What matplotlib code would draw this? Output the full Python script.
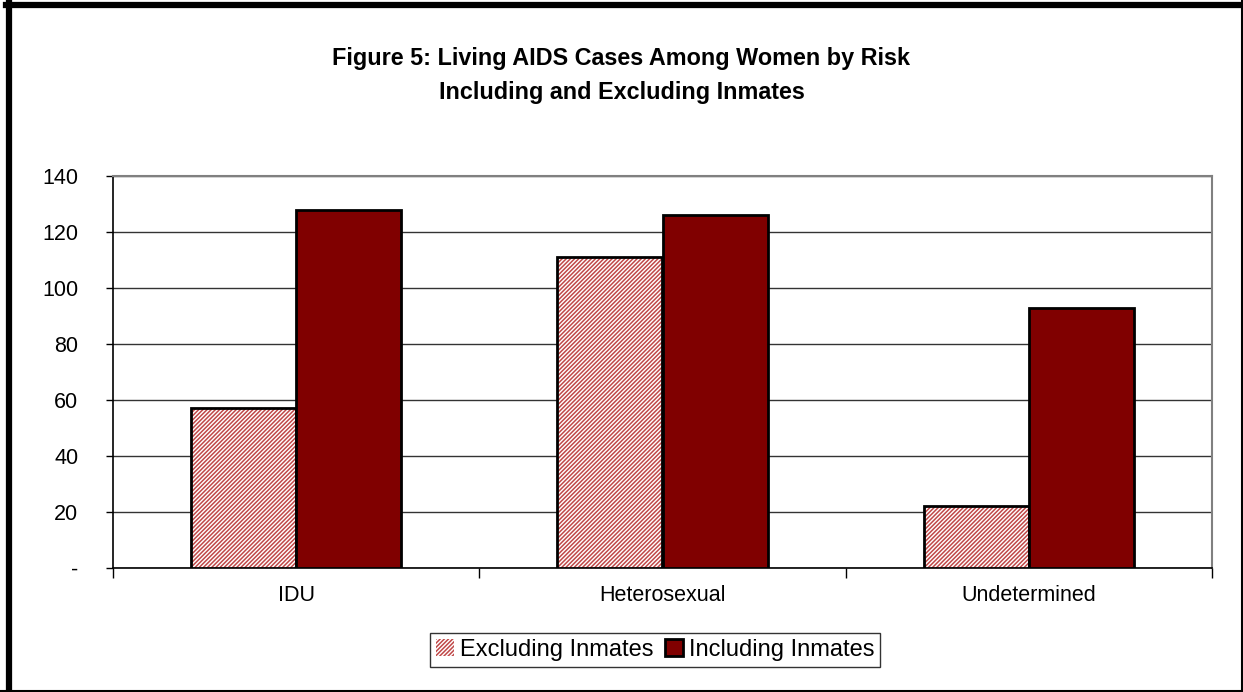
import numpy as np
import matplotlib
matplotlib.use("Agg")
import matplotlib.pyplot as plt
from matplotlib.lines import Line2D
from matplotlib.patches import Patch

plt.rcParams['font.family'] = ['Liberation Sans', 'DejaVu Sans']

# data
categories = ["IDU", "Heterosexual", "Undetermined"]
excluding = [57, 111, 22]
including = [128, 126, 93]
yticks = [0, 20, 40, 60, 80, 100, 120, 140]
ytick_labels = ["-", "20", "40", "60", "80", "100", "120", "140"]

W, H = 1243, 692
fig = plt.figure(figsize=(W / 100, H / 100), dpi=100)
ax = fig.add_axes([113 / W, 1 - 568 / H, (1212 - 113) / W, (568 - 176) / H])

x = np.arange(len(categories))
bw = 0.287
hatch_red = "#c04848"
dark_red = "#800000"

# hatched bars: draw hatch first, then black outline on top
plt.rcParams['hatch.linewidth'] = 1.1
ax.bar(x - bw / 2, excluding, bw, color="white", edgecolor=hatch_red,
       hatch="////////", linewidth=0, zorder=3)
ax.bar(x - bw / 2, excluding, bw, fill=False, edgecolor="black",
       linewidth=2, zorder=4)
ax.bar(x + bw / 2, including, bw, color=dark_red, edgecolor="black",
       linewidth=2, zorder=4)

ax.set_xlim(-0.5, 2.5)
ax.set_ylim(0, 140)
ax.set_yticks(yticks)
ax.set_yticklabels(ytick_labels, fontsize=15.5)
ax.set_xticks(x)
ax.set_xticklabels(categories, fontsize=15.5)
ax.tick_params(axis='x', length=0, pad=12)
ax.tick_params(axis='y', length=5, width=1, pad=20)
# category boundary ticks on the x axis
ax.set_xticks([-0.5, 0.5, 1.5, 2.5], minor=True)
ax.tick_params(axis='x', which='minor', length=7, width=1)

ax.yaxis.grid(True, color="#333333", linewidth=1, zorder=0)
ax.set_axisbelow(True)
for s in ["top", "right"]:
    ax.spines[s].set_color("#808080")
    ax.spines[s].set_linewidth(1.5)
for s in ["left", "bottom"]:
    ax.spines[s].set_color("black")
    ax.spines[s].set_linewidth(1.2)

fig.text(0.5, 1 - 59 / H, "Figure 5: Living AIDS Cases Among Women by Risk",
         ha="center", va="center", fontsize=16.8, fontweight="bold")
fig.text(0.5, 1 - 93 / H, "Including and Excluding Inmates",
         ha="center", va="center", fontsize=16.8, fontweight="bold")

handles = [Patch(facecolor="white", edgecolor=hatch_red, hatch="////////", linewidth=0),
           Patch(facecolor=dark_red, edgecolor="black", linewidth=2)]
leg = fig.legend(handles, ["Excluding Inmates", "Including Inmates"],
                 loc="center", bbox_to_anchor=(655 / W, 1 - 650 / H), ncol=2,
                 fontsize=17, frameon=True, fancybox=False,
                 handlelength=0.75, handleheight=0.75, handletextpad=0.25,
                 columnspacing=0.5, borderpad=0.25, borderaxespad=0)
leg.get_frame().set_edgecolor("black")
leg.get_frame().set_linewidth(1)

# outer border of the chart
fig.add_artist(Line2D([9 / W, 9 / W], [0, 1 - 2 / H], color="black", lw=4.5))
fig.add_artist(Line2D([6 / W, 1], [1 - 5 / H, 1 - 5 / H], color="black", lw=4.5))
fig.add_artist(Line2D([1 - 1.5 / W, 1 - 1.5 / W], [0, 1], color="black", lw=1.5))
fig.add_artist(Line2D([0, 1], [1.5 / H, 1.5 / H], color="black", lw=1.5))

fig.savefig("out.png", dpi=100)
